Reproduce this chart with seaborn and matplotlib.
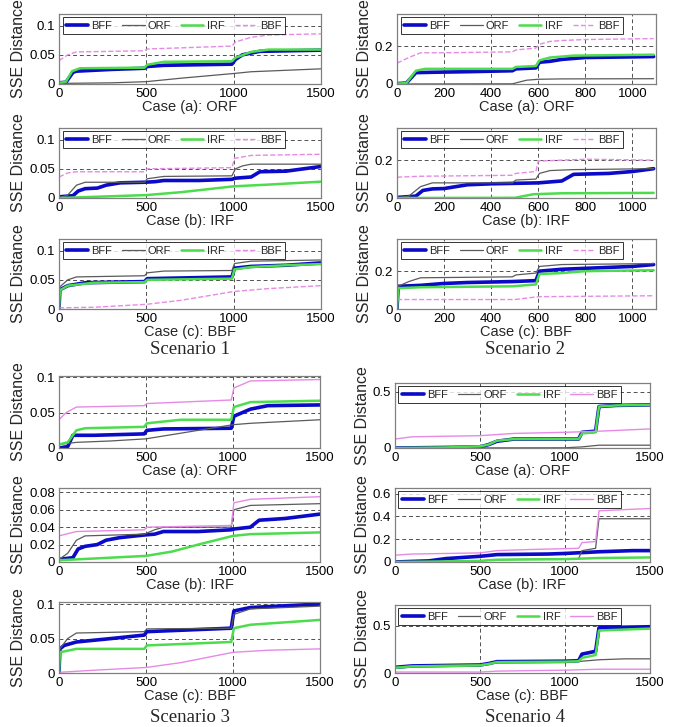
import matplotlib
matplotlib.use("Agg")
import matplotlib.pyplot as plt
import seaborn as sns

sns.set_theme(style="white")
plt.rcParams['font.family'] = ['Liberation Sans', 'DejaVu Sans']

SERIES = ["BFF", "ORF", "IRF", "BBF"]
CASES = ["Case (a): ORF", "Case (b): IRF", "Case (c): BBF"]
SCENARIOS = ["Scenario 1", "Scenario 2", "Scenario 3", "Scenario 4"]

# ---- Scenario 1 (x: 0..1500) ----
S1A_BFF = [(0, 0.002), (40, 0.003), (80, 0.020), (100, 0.022), (300, 0.025), (490, 0.027), (505, 0.030), (600, 0.032), (990, 0.034), (1010, 0.042), (1050, 0.050), (1150, 0.056), (1500, 0.058)]
S1A_ORF = [(0, 0.001), (300, 0.002), (500, 0.004), (700, 0.010), (1000, 0.018), (1100, 0.021), (1500, 0.026)]
S1A_IRF = [(0, 0.002), (40, 0.004), (75, 0.022), (120, 0.027), (490, 0.028), (505, 0.033), (600, 0.038), (990, 0.039), (1010, 0.045), (1100, 0.055), (1200, 0.059), (1500, 0.059)]
S1A_BBF = [(0, 0.040), (50, 0.050), (100, 0.055), (490, 0.057), (505, 0.060), (990, 0.065), (1010, 0.072), (1100, 0.080), (1200, 0.084), (1500, 0.086)]

S1B_BFF = [(0, 0.002), (80, 0.004), (110, 0.012), (150, 0.016), (220, 0.017), (270, 0.022), (350, 0.026), (490, 0.027), (550, 0.028), (600, 0.030), (800, 0.030), (990, 0.032), (1010, 0.034), (1100, 0.036), (1150, 0.045), (1300, 0.046), (1400, 0.050), (1500, 0.054)]
S1B_ORF = [(0, 0.0), (50, 0.005), (100, 0.022), (150, 0.027), (490, 0.027), (505, 0.033), (600, 0.037), (990, 0.038), (1010, 0.050), (1050, 0.055), (1100, 0.058), (1500, 0.058)]
S1B_IRF = [(0, 0.0), (200, 0.002), (500, 0.005), (700, 0.010), (1000, 0.020), (1200, 0.023), (1500, 0.028)]
S1B_BBF = [(0, 0.036), (50, 0.043), (100, 0.045), (490, 0.045), (505, 0.050), (990, 0.052), (1005, 0.068), (1100, 0.073), (1500, 0.075)]

S1C_BFF = [(0, 0.0), (5, 0.033), (50, 0.040), (150, 0.045), (490, 0.047), (505, 0.052), (990, 0.055), (1005, 0.070), (1100, 0.073), (1300, 0.075), (1500, 0.079)]
S1C_ORF = [(0, 0.0), (5, 0.038), (50, 0.050), (100, 0.055), (490, 0.057), (505, 0.062), (600, 0.065), (990, 0.066), (1005, 0.078), (1100, 0.082), (1500, 0.084)]
S1C_IRF = [(0, 0.0), (5, 0.032), (50, 0.040), (200, 0.045), (490, 0.046), (505, 0.050), (990, 0.052), (1005, 0.068), (1100, 0.072), (1300, 0.075), (1500, 0.077)]
S1C_BBF = [(0, 0.002), (200, 0.003), (500, 0.008), (700, 0.015), (1000, 0.030), (1200, 0.035), (1500, 0.040)]

# ---- Scenario 2 (x: 0..1100) ----
S2A_BFF = [(0, 0.002), (40, 0.005), (80, 0.060), (150, 0.062), (300, 0.065), (490, 0.070), (505, 0.080), (590, 0.085), (605, 0.115), (650, 0.120), (700, 0.130), (800, 0.140), (1090, 0.145)]
S2A_ORF = [(0, 0.0), (490, 0.001), (550, 0.020), (600, 0.025), (700, 0.027), (1090, 0.028)]
S2A_IRF = [(0, 0.002), (40, 0.005), (80, 0.070), (120, 0.080), (490, 0.080), (505, 0.090), (590, 0.095), (605, 0.125), (650, 0.140), (750, 0.150), (1090, 0.155)]
S2A_BBF = [(0, 0.110), (50, 0.140), (100, 0.165), (200, 0.165), (490, 0.170), (505, 0.180), (590, 0.190), (605, 0.210), (650, 0.225), (700, 0.230), (800, 0.235), (1090, 0.240)]

S2B_BFF = [(0, 0.003), (80, 0.010), (110, 0.040), (150, 0.048), (200, 0.050), (250, 0.060), (300, 0.070), (400, 0.075), (600, 0.080), (700, 0.090), (750, 0.125), (900, 0.130), (1000, 0.140), (1090, 0.155)]
S2B_ORF = [(0, 0.0), (50, 0.010), (100, 0.060), (150, 0.080), (490, 0.080), (505, 0.095), (590, 0.100), (605, 0.130), (650, 0.145), (750, 0.150), (1090, 0.155)]
S2B_IRF = [(0, 0.0), (500, 0.001), (580, 0.020), (700, 0.025), (1090, 0.027)]
S2B_BBF = [(0, 0.110), (100, 0.115), (490, 0.120), (505, 0.130), (590, 0.140), (600, 0.195), (700, 0.200), (800, 0.205), (1090, 0.200)]

S2C_BFF = [(0, 0.0), (5, 0.120), (100, 0.125), (200, 0.135), (300, 0.140), (490, 0.145), (590, 0.150), (605, 0.200), (700, 0.210), (900, 0.220), (1000, 0.225), (1090, 0.235)]
S2C_ORF = [(0, 0.0), (5, 0.120), (50, 0.145), (100, 0.165), (490, 0.170), (505, 0.180), (590, 0.190), (605, 0.225), (700, 0.235), (1090, 0.240)]
S2C_IRF = [(0, 0.0), (5, 0.110), (100, 0.115), (490, 0.120), (590, 0.130), (605, 0.185), (700, 0.190), (800, 0.200), (1090, 0.205)]
S2C_BBF = [(0, 0.050), (500, 0.050), (600, 0.065), (1090, 0.070)]

# ---- Scenario 3 (x: 0..1500) ----
S3A_BFF = [(0, 0.0), (50, 0.002), (80, 0.018), (200, 0.018), (490, 0.020), (505, 0.025), (600, 0.027), (990, 0.028), (1005, 0.045), (1100, 0.055), (1200, 0.060), (1500, 0.061)]
S3A_ORF = [(0, 0.005), (100, 0.008), (300, 0.010), (500, 0.013), (600, 0.017), (800, 0.025), (1000, 0.033), (1100, 0.035), (1500, 0.040)]
S3A_IRF = [(0, 0.005), (50, 0.008), (100, 0.025), (150, 0.028), (490, 0.030), (505, 0.035), (700, 0.040), (990, 0.040), (1005, 0.058), (1100, 0.065), (1500, 0.067)]
S3A_BBF = [(0, 0.040), (40, 0.050), (100, 0.058), (490, 0.060), (505, 0.063), (990, 0.068), (1005, 0.085), (1100, 0.095), (1500, 0.097)]

S3B_BFF = [(0, 0.003), (80, 0.005), (110, 0.015), (150, 0.018), (220, 0.020), (270, 0.025), (350, 0.028), (490, 0.031), (550, 0.032), (600, 0.035), (800, 0.035), (990, 0.037), (1010, 0.038), (1100, 0.040), (1150, 0.048), (1300, 0.050), (1500, 0.055)]
S3B_ORF = [(0, 0.003), (50, 0.010), (100, 0.025), (150, 0.030), (490, 0.032), (550, 0.037), (600, 0.040), (990, 0.040), (1005, 0.060), (1100, 0.065), (1500, 0.067)]
S3B_IRF = [(0, 0.002), (200, 0.004), (500, 0.007), (650, 0.012), (800, 0.020), (1000, 0.030), (1100, 0.032), (1500, 0.034)]
S3B_BBF = [(0, 0.030), (100, 0.035), (490, 0.037), (505, 0.040), (990, 0.042), (1005, 0.068), (1100, 0.072), (1500, 0.075)]

S3C_BFF = [(0, 0.0), (5, 0.035), (30, 0.040), (100, 0.045), (300, 0.050), (490, 0.055), (505, 0.060), (990, 0.065), (1005, 0.090), (1100, 0.095), (1500, 0.100)]
S3C_ORF = [(0, 0.0), (5, 0.035), (50, 0.050), (100, 0.058), (490, 0.060), (505, 0.064), (990, 0.065), (1005, 0.085), (1100, 0.093), (1500, 0.097)]
S3C_IRF = [(0, 0.0), (5, 0.030), (100, 0.035), (490, 0.035), (505, 0.040), (990, 0.045), (1005, 0.065), (1100, 0.070), (1500, 0.077)]
S3C_BBF = [(0, 0.001), (200, 0.004), (500, 0.008), (700, 0.015), (1000, 0.030), (1200, 0.033), (1500, 0.035)]

# ---- Scenario 4 (x: 0..1500) ----
S4A_BFF = [(0, 0.0), (300, 0.005), (500, 0.010), (550, 0.030), (600, 0.060), (700, 0.080), (1080, 0.080), (1100, 0.140), (1180, 0.150), (1200, 0.370), (1300, 0.380), (1500, 0.385)]
S4A_ORF = [(0, 0.0), (1000, 0.002), (1100, 0.010), (1200, 0.025), (1500, 0.025)]
S4A_IRF = [(0, 0.0), (300, 0.005), (500, 0.015), (550, 0.030), (600, 0.065), (700, 0.080), (1080, 0.080), (1100, 0.130), (1180, 0.140), (1200, 0.370), (1300, 0.380), (1500, 0.385)]
S4A_BBF = [(0, 0.080), (100, 0.100), (500, 0.110), (700, 0.130), (1000, 0.140), (1200, 0.150), (1500, 0.170)]

S4B_BFF = [(0, 0.0), (200, 0.010), (300, 0.030), (500, 0.050), (600, 0.065), (900, 0.070), (1000, 0.075), (1200, 0.090), (1400, 0.100), (1500, 0.100)]
S4B_ORF = [(0, 0.0), (500, 0.010), (600, 0.020), (1080, 0.030), (1100, 0.100), (1180, 0.120), (1200, 0.380), (1500, 0.380)]
S4B_IRF = [(0, 0.0), (300, 0.005), (500, 0.010), (600, 0.020), (1000, 0.025), (1200, 0.035), (1500, 0.040)]
S4B_BBF = [(0, 0.060), (100, 0.070), (500, 0.080), (600, 0.100), (800, 0.110), (1080, 0.120), (1100, 0.170), (1180, 0.180), (1200, 0.450), (1500, 0.470)]

S4C_BFF = [(0, 0.060), (100, 0.075), (500, 0.085), (550, 0.100), (600, 0.120), (1000, 0.125), (1080, 0.130), (1100, 0.200), (1180, 0.230), (1200, 0.480), (1500, 0.490)]
S4C_ORF = [(0, 0.060), (100, 0.075), (500, 0.090), (600, 0.110), (1000, 0.110), (1200, 0.140), (1350, 0.150), (1500, 0.150)]
S4C_IRF = [(0, 0.055), (100, 0.070), (500, 0.080), (550, 0.095), (600, 0.115), (1000, 0.120), (1080, 0.125), (1100, 0.160), (1180, 0.190), (1200, 0.450), (1500, 0.470)]
S4C_BBF = [(0, 0.010), (500, 0.010), (600, 0.020), (1000, 0.030), (1200, 0.040), (1500, 0.040)]

X_TICKS_1500 = [0, 500, 1000, 1500]
X_TICKS_1100 = [0, 200, 400, 600, 800, 1000]

# style per method: colour, width, dash
STYLE = {
    "BFF": ("#0a0ac8", 2.6, "-"),
    "ORF": ("#5a5a5a", 0.9, "-"),
    "IRF": ("#4cdc4c", 1.8, "-"),
    "BBF": ("#e68ae6", 1.0, "--"),
}

W, H = 680, 727
fig = plt.figure(figsize=(W / 100, H / 100), dpi=100)


def rect(x0, y0, x1, y1):
    return [x0 / W, 1 - y1 / H, (x1 - x0) / W, (y1 - y0) / H]


# (scenario, case, pixel box, data, xlim, xticks, ylim, yticks, legend, bbf dashed)
panels = [
    (0, 0, (59, 14, 321, 84), [S1A_BFF, S1A_ORF, S1A_IRF, S1A_BBF], 1500, X_TICKS_1500, 0.12, [0, 0.05, 0.1], True, True),
    (0, 1, (59, 128, 321, 198), [S1B_BFF, S1B_ORF, S1B_IRF, S1B_BBF], 1500, X_TICKS_1500, 0.12, [0, 0.05, 0.1], True, True),
    (0, 2, (59, 239, 321, 309), [S1C_BFF, S1C_ORF, S1C_IRF, S1C_BBF], 1500, X_TICKS_1500, 0.12, [0, 0.05, 0.1], True, True),
    (1, 0, (397, 14, 656, 84), [S2A_BFF, S2A_ORF, S2A_IRF, S2A_BBF], 1100, X_TICKS_1100, 0.37, [0, 0.2], True, True),
    (1, 1, (397, 128, 656, 198), [S2B_BFF, S2B_ORF, S2B_IRF, S2B_BBF], 1100, X_TICKS_1100, 0.37, [0, 0.2], True, True),
    (1, 2, (397, 239, 656, 309), [S2C_BFF, S2C_ORF, S2C_IRF, S2C_BBF], 1100, X_TICKS_1100, 0.37, [0, 0.2], True, True),
    (2, 0, (59, 376, 320, 448), [S3A_BFF, S3A_ORF, S3A_IRF, S3A_BBF], 1500, X_TICKS_1500, 0.102, [0, 0.05, 0.1], False, False),
    (2, 1, (59, 488, 320, 562), [S3B_BFF, S3B_ORF, S3B_IRF, S3B_BBF], 1500, X_TICKS_1500, 0.085, [0, 0.02, 0.04, 0.06, 0.08], False, False),
    (2, 2, (59, 602, 320, 673), [S3C_BFF, S3C_ORF, S3C_IRF, S3C_BBF], 1500, X_TICKS_1500, 0.103, [0, 0.05, 0.1], False, False),
    (3, 0, (395, 383, 650, 448), [S4A_BFF, S4A_ORF, S4A_IRF, S4A_BBF], 1500, X_TICKS_1500, 0.58, [0, 0.5], True, False),
    (3, 1, (395, 488, 650, 562), [S4B_BFF, S4B_ORF, S4B_IRF, S4B_BBF], 1500, X_TICKS_1500, 0.65, [0, 0.2, 0.4, 0.6], True, False),
    (3, 2, (395, 605, 650, 673), [S4C_BFF, S4C_ORF, S4C_IRF, S4C_BBF], 1500, X_TICKS_1500, 0.72, [0, 0.5], True, False),
]

for scen, case, box, data, xmax, xticks, ymax, yticks, show_leg, bbf_dash in panels:
    ax = fig.add_axes(rect(*box))
    for name, pts in zip(SERIES, data):
        color, lw, ls = STYLE[name]
        if name == "BBF" and not bbf_dash:
            ls = "-"
        xs = [p[0] for p in pts]
        ys = [p[1] for p in pts]
        sns.lineplot(x=xs, y=ys, ax=ax, color=color, lw=lw, linestyle=ls,
                     label=name, estimator=None, sort=False, legend=False)
    ax.set_xlim(0, xmax)
    ax.set_ylim(0, ymax)
    ax.set_xticks(xticks)
    ax.set_xticklabels([str(t) for t in xticks])
    ax.set_yticks(yticks)
    ax.set_yticklabels([("%g" % t) for t in yticks])
    ax.grid(True, linestyle=(0, (4, 3)), color="#505050", lw=0.7)
    ax.tick_params(direction="in", length=3, labelsize=9.5, pad=3, colors="#000000")
    for sp in ax.spines.values():
        sp.set_color("#808080")
        sp.set_linewidth(0.9)
    ax.set_xlabel(CASES[case], fontsize=10.5, labelpad=0)
    ax.set_ylabel("SSE Distance", fontsize=11.5, labelpad=2)
    if show_leg:
        leg = ax.legend(loc="upper left", bbox_to_anchor=(0.005, 0.985), ncol=4,
                        fontsize=8, handlelength=2.0, columnspacing=0.9,
                        handletextpad=0.3, borderpad=0.3, frameon=True,
                        fancybox=False, borderaxespad=0.2)
        leg.get_frame().set_edgecolor("#000000")
        leg.get_frame().set_linewidth(0.7)

# scenario captions
for name, (cx, cy) in zip(SCENARIOS, [(190, 350), (525, 350), (190, 717), (525, 717)]):
    fig.text(cx / W, 1 - cy / H, name, ha="center", va="center", fontsize=13.5,
             family=["Liberation Serif", "DejaVu Serif"])

fig.savefig("out.png", dpi=100)
